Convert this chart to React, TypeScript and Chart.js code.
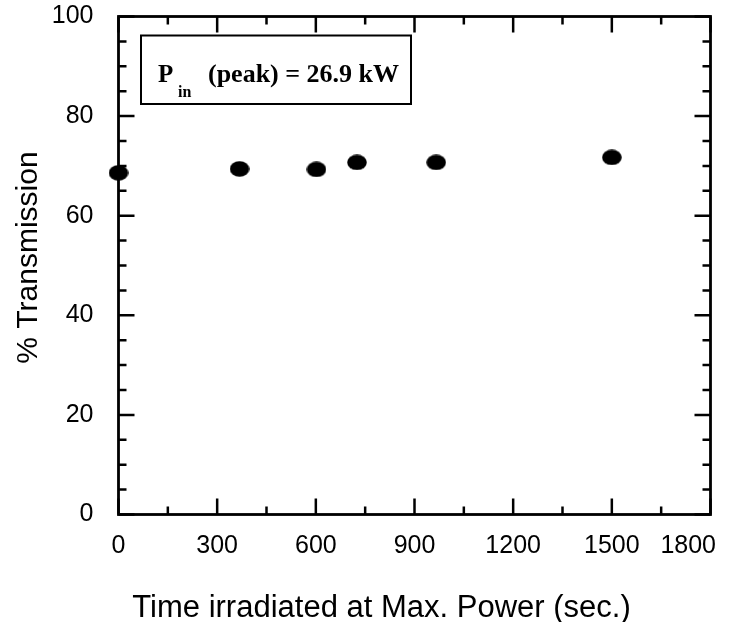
import { useEffect, useRef } from "react";
import { Chart, registerables } from "chart.js";

Chart.register(...registerables);

// ---- data ----
const timeSec = [0, 368, 602, 725, 966, 1500];
const transmission = [68.6, 69.4, 69.3, 70.7, 70.7, 71.7];
const xTickValues = [0, 300, 600, 900, 1200, 1500, 1800];
const yTickValues = [0, 20, 40, 60, 80, 100];
const xMinorStep = 150;
const yMinorStep = 5;
const xTitle = "Time irradiated at Max. Power (sec.)";
const yTitle = "% Transmission";
const boxMain = "P";
const boxSub = "in";
const boxRest = "(peak) = 26.9 kW";

const SANS = '"Liberation Sans", Arial, Helvetica, sans-serif';
const SERIF = '"Liberation Serif", "Times New Roman", serif';

function makeDot(): HTMLCanvasElement {
  const c = document.createElement("canvas");
  c.width = 20;
  c.height = 16;
  const g = c.getContext("2d")!;
  g.fillStyle = "#000";
  g.beginPath();
  g.ellipse(10, 8, 9.8, 7.8, 0, 0, Math.PI * 2);
  g.fill();
  return c;
}

const framePlugin = {
  id: "frameAndTicks",
  afterDatasetsDraw(chart: any) {
    const { ctx, chartArea: a, scales, width } = chart;
    const xs = scales.x;
    const ys = scales.y;
    ctx.save();
    ctx.strokeStyle = "#000";
    ctx.fillStyle = "#000";
    ctx.lineCap = "butt";

    // inward tick marks on all four sides
    ctx.lineWidth = 2.5;
    ctx.beginPath();
    for (let v = xs.min; v <= xs.max + 1e-9; v += xMinorStep) {
      const p = xs.getPixelForValue(v);
      const len = xTickValues.includes(v) ? 16 : 8;
      ctx.moveTo(p, a.bottom);
      ctx.lineTo(p, a.bottom - len);
      ctx.moveTo(p, a.top);
      ctx.lineTo(p, a.top + len);
    }
    for (let v = ys.min; v <= ys.max + 1e-9; v += yMinorStep) {
      const p = ys.getPixelForValue(v);
      const len = yTickValues.includes(v) ? 16 : 8;
      ctx.moveTo(a.left, p);
      ctx.lineTo(a.left + len, p);
      ctx.moveTo(a.right, p);
      ctx.lineTo(a.right - len, p);
    }
    ctx.stroke();

    // frame
    ctx.lineWidth = 2.8;
    ctx.strokeRect(a.left, a.top, a.right - a.left, a.bottom - a.top);

    // x tick labels (last one kept inside the picture)
    ctx.font = `25px ${SANS}`;
    ctx.textBaseline = "top";
    ctx.textAlign = "left";
    for (const v of xTickValues) {
      const label = String(v);
      const w = ctx.measureText(label).width;
      let left = xs.getPixelForValue(v) - w / 2;
      if (left + w > width - 16) left = width - 16 - w;
      ctx.fillText(label, left, a.bottom + 19);
    }

    // annotation box
    const bx = a.left + 22.5;
    const by = a.top + 19;
    ctx.lineWidth = 2;
    ctx.strokeRect(bx, by, 270, 68.5);
    ctx.textBaseline = "alphabetic";
    ctx.textAlign = "left";
    ctx.font = `bold 25px ${SERIF}`;
    ctx.fillText(boxMain, bx + 17, by + 46);
    ctx.font = `bold 16px ${SERIF}`;
    ctx.fillText(boxSub, bx + 37, by + 61);
    ctx.font = `bold 26px ${SERIF}`;
    ctx.fillText(boxRest, bx + 67, by + 46);

    // axis titles
    ctx.font = `31px ${SANS}`;
    ctx.textAlign = "center";
    ctx.fillText(xTitle, (a.left + a.right) / 2 - 33, a.bottom + 102);
    ctx.save();
    ctx.translate(37, (a.top + a.bottom) / 2 - 8);
    ctx.rotate(-Math.PI / 2);
    ctx.font = `30px ${SANS}`;
    ctx.fillText(yTitle, 0, 0);
    ctx.restore();

    ctx.restore();
  },
};

export default function App() {
  const ref = useRef<HTMLCanvasElement | null>(null);

  useEffect(() => {
    if (!ref.current) return;
    const dot = makeDot();
    const chart = new Chart(ref.current, {
      type: "scatter",
      data: {
        datasets: [
          {
            label: "Transmission",
            data: timeSec.map((t, i) => ({ x: t, y: transmission[i] })),
            pointStyle: dot as any,
            pointRadius: 10,
            backgroundColor: "#000",
            borderColor: "#000",
            showLine: false,
            clip: false as any,
          },
        ],
      },
      options: {
        responsive: false,
        animation: false,
        layout: { padding: { top: 16.5, right: 21.5, left: 0, bottom: 0 } },
        plugins: {
          legend: { display: false },
          tooltip: { enabled: false },
          title: { display: false },
        },
        scales: {
          x: {
            type: "linear",
            min: 0,
            max: 1800,
            grid: { display: false, drawTicks: false },
            border: { display: false },
            afterBuildTicks: (s: any) => {
              s.ticks = xTickValues.map((v) => ({ value: v }));
            },
            afterFit: (s: any) => {
              s.height = 107.5;
              s.paddingLeft = 0;
              s.paddingRight = 0;
            },
            ticks: {
              display: false,
              autoSkip: false,
            },
          },
          y: {
            type: "linear",
            min: 0,
            max: 100,
            grid: { display: false, drawTicks: false },
            border: { display: false },
            afterBuildTicks: (s: any) => {
              s.ticks = yTickValues.map((v) => ({ value: v }));
            },
            afterFit: (s: any) => {
              s.width = 118.5;
              s.paddingTop = 0;
              s.paddingBottom = 0;
            },
            ticks: {
              color: "#000",
              font: { family: SANS, size: 25 },
              padding: 25,
              autoSkip: false,
              callback: (v: any) => String(v),
            },
          },
        },
      },
      plugins: [framePlugin],
    });
    return () => chart.destroy();
  }, []);

  return (
    <div style={{ position: "fixed", left: 0, top: 0, width: 732, height: 622, background: "#fff" }}>
      <canvas ref={ref} width={732} height={622} style={{ display: "block" }} />
    </div>
  );
}
